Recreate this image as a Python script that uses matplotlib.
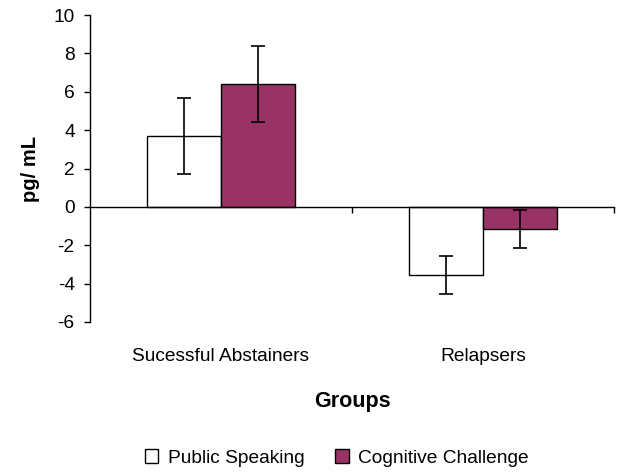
import matplotlib
matplotlib.use("Agg")
import matplotlib.pyplot as plt
import numpy as np
from matplotlib.patches import Patch

categories = ["Sucessful Abstainers", "Relapsers"]
series_names = ["Public Speaking", "Cognitive Challenge"]
public_speaking = [3.7, -3.55]
cognitive_challenge = [6.4, -1.15]
ps_err = [2.0, 1.0]
cc_err = [2.0, 1.0]
yticks = [-6, -4, -2, 0, 2, 4, 6, 8, 10]

plt.rcParams['font.family'] = ['Liberation Sans', 'DejaVu Sans']
plt.rcParams['axes.unicode_minus'] = False

fig = plt.figure(figsize=(6.19, 4.72), dpi=100)
ax = fig.add_axes([90/619, 1-322/472, (614-90)/619, (322-15)/472])

x = np.arange(len(categories))
w = 0.283
colors = ["white", "#993366"]
ekw = dict(elinewidth=1.2, capthick=1.2, ecolor="black")
ax.bar(x - w/2, public_speaking, w, color=colors[0], edgecolor="black", linewidth=1.0,
       yerr=ps_err, capsize=5, error_kw=ekw, zorder=2)
ax.bar(x + w/2, cognitive_challenge, w, color=colors[1], edgecolor="black", linewidth=1.0,
       yerr=cc_err, capsize=5, error_kw=ekw, zorder=2)

ax.set_xlim(-0.5, len(categories) - 0.5)
ax.set_ylim(-6, 10)
ax.set_yticks(yticks)
ax.tick_params(axis='y', direction='out', length=4, width=1, labelsize=13.8, pad=7)

for s in ['top', 'right']:
    ax.spines[s].set_visible(False)
ax.spines['left'].set_linewidth(1)
ax.spines['bottom'].set_position(('data', 0))
ax.spines['bottom'].set_linewidth(1)
ax.spines['bottom'].set_zorder(3)
ax.set_xticks([])
ax.set_xticks(x + 0.5, minor=True)
ax.tick_params(axis='x', which='minor', direction='out', length=4, width=1, labelbottom=False)

sec = ax.secondary_xaxis('bottom')
sec.set_xticks(x)
sec.set_xticklabels(categories)
sec.spines['bottom'].set_visible(False)
sec.tick_params(axis='x', length=0, labelsize=13.8, pad=19)

ax.set_ylabel("pg/ mL", fontsize=14.5, fontweight='bold', labelpad=10)
fig.text(352/619, 1-402/472, "Groups", ha='center', va='center', fontsize=15.5, fontweight='bold')

handles = [Patch(facecolor=c, edgecolor='black', linewidth=1) for c in colors]
fig.legend(handles, series_names, loc='center', bbox_to_anchor=(337/619, 1-458/472), ncol=2,
           frameon=False, fontsize=13.8, handlelength=0.7, handleheight=0.7, handletextpad=0.5,
           columnspacing=1.6)

fig.savefig("out.png", dpi=100)
